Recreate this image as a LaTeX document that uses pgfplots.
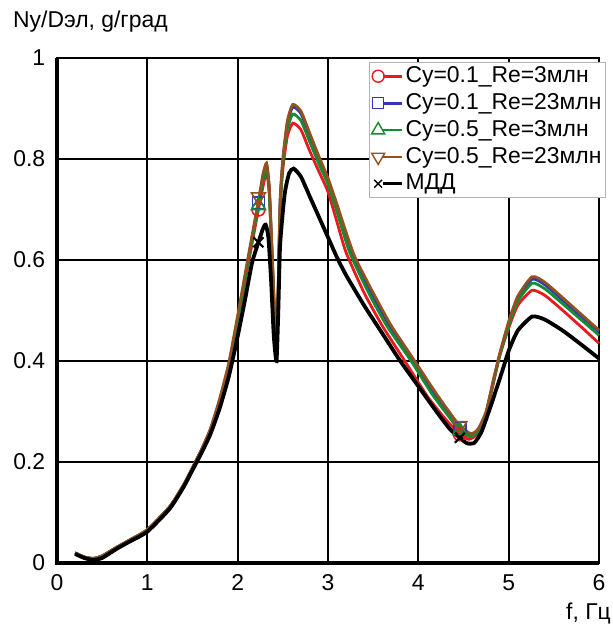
\documentclass[border=0pt]{standalone}
\usepackage{fontspec}
\setmainfont{Liberation Sans}
\usepackage{pgfplots}
\usepackage{pgfplotstable}
\pgfplotsset{compat=1.18}
\definecolor{cred}{RGB}{235,25,30}
\definecolor{cblue}{RGB}{50,55,180}
\definecolor{cgreen}{RGB}{20,140,50}
\definecolor{cbrown}{RGB}{145,82,32}

\pgfplotstableread{
f v
0.2 0.020
0.3 0.012
0.4 0.009
0.5 0.014
0.66 0.031
0.8 0.045
1.0 0.066
1.25 0.112
1.4 0.154
1.5 0.188
1.6 0.223
1.7 0.263
1.8 0.316
1.9 0.382
2.0 0.472
2.11 0.585
2.23 0.700
2.28 0.745
2.32 0.775
2.35 0.730
2.38 0.610
2.41 0.480
2.43 0.420
2.45 0.540
2.47 0.700
2.50 0.780
2.55 0.845
2.61 0.871
2.7 0.858
2.8 0.815
2.9 0.775
3.0 0.735
3.1 0.675
3.2 0.615
3.4 0.535
3.6 0.470
3.85 0.400
4.1 0.330
4.3 0.285
4.46 0.255
4.56 0.245
4.65 0.255
4.75 0.295
4.83 0.355
4.9 0.410
5.0 0.465
5.1 0.510
5.26 0.540
5.4 0.530
5.6 0.500
5.8 0.468
6.0 0.435
}\redtab

\pgfplotstableread{
f v
0.2 0.020
0.3 0.012
0.4 0.009
0.5 0.014
0.66 0.031
0.8 0.045
1.0 0.066
1.25 0.112
1.4 0.154
1.5 0.188
1.6 0.224
1.7 0.265
1.8 0.321
1.9 0.390
2.0 0.482
2.11 0.594
2.23 0.713
2.28 0.762
2.32 0.787
2.35 0.740
2.38 0.615
2.41 0.485
2.43 0.420
2.45 0.550
2.47 0.710
2.50 0.795
2.55 0.870
2.61 0.903
2.7 0.890
2.8 0.845
2.9 0.800
3.0 0.757
3.1 0.705
3.2 0.648
3.27 0.610
3.48 0.535
3.68 0.470
3.94 0.400
4.18 0.335
4.38 0.283
4.46 0.266
4.58 0.253
4.66 0.262
4.75 0.298
4.83 0.360
4.9 0.412
5.0 0.473
5.1 0.523
5.26 0.562
5.4 0.551
5.6 0.520
5.8 0.489
6.0 0.458
}\bluetab

\pgfplotstableread{
f v
0.2 0.020
0.3 0.012
0.4 0.009
0.5 0.014
0.66 0.031
0.8 0.045
1.0 0.066
1.25 0.112
1.4 0.154
1.5 0.188
1.6 0.224
1.7 0.264
1.8 0.319
1.9 0.386
2.0 0.478
2.11 0.590
2.23 0.708
2.28 0.757
2.32 0.783
2.35 0.735
2.38 0.612
2.41 0.482
2.43 0.420
2.45 0.545
2.47 0.705
2.50 0.788
2.55 0.858
2.61 0.889
2.7 0.876
2.8 0.833
2.9 0.790
3.0 0.750
3.1 0.695
3.24 0.615
3.45 0.535
3.65 0.470
3.92 0.400
4.15 0.335
4.35 0.287
4.46 0.262
4.57 0.250
4.66 0.260
4.75 0.297
4.83 0.358
4.9 0.410
5.0 0.470
5.1 0.518
5.26 0.554
5.4 0.543
5.6 0.513
5.8 0.482
6.0 0.451
}\greentab

\pgfplotstableread{
f v
0.2 0.020
0.3 0.012
0.4 0.009
0.5 0.014
0.66 0.031
0.8 0.045
1.0 0.066
1.25 0.112
1.4 0.154
1.5 0.189
1.6 0.225
1.7 0.267
1.8 0.325
1.9 0.395
2.0 0.490
2.11 0.600
2.23 0.718
2.28 0.770
2.32 0.792
2.35 0.745
2.38 0.620
2.41 0.490
2.43 0.420
2.45 0.555
2.47 0.720
2.50 0.800
2.55 0.875
2.61 0.908
2.7 0.895
2.8 0.850
2.9 0.805
3.0 0.762
3.1 0.710
3.2 0.655
3.3 0.605
3.5 0.535
3.7 0.470
3.96 0.400
4.2 0.335
4.4 0.285
4.46 0.272
4.58 0.256
4.66 0.265
4.75 0.300
4.83 0.362
4.9 0.414
5.0 0.478
5.1 0.528
5.26 0.567
5.4 0.556
5.6 0.525
5.8 0.493
6.0 0.461
}\browntab

\pgfplotstableread{
f v
0.2 0.018
0.3 0.010
0.4 0.006
0.5 0.010
0.66 0.028
0.8 0.042
1.0 0.062
1.25 0.108
1.4 0.150
1.5 0.184
1.6 0.218
1.7 0.256
1.8 0.306
1.9 0.368
1.99 0.440
2.08 0.520
2.16 0.595
2.23 0.635
2.28 0.662
2.31 0.670
2.34 0.645
2.37 0.560
2.40 0.450
2.43 0.400
2.45 0.500
2.47 0.630
2.52 0.730
2.57 0.772
2.62 0.781
2.7 0.765
2.8 0.725
2.9 0.685
3.0 0.645
3.1 0.605
3.2 0.570
3.4 0.510
3.6 0.455
3.8 0.400
4.0 0.350
4.2 0.300
4.35 0.265
4.46 0.248
4.54 0.237
4.62 0.238
4.7 0.260
4.8 0.310
4.92 0.375
5.0 0.420
5.1 0.460
5.26 0.488
5.4 0.482
5.6 0.460
5.8 0.433
6.0 0.405
}\blacktab

\begin{document}
\fontsize{23}{27}\selectfont
\begin{tikzpicture}
\useasboundingbox (-57bp,-71bp) rectangle (556bp,563bp);
\begin{axis}[
  at={(0,0)}, anchor=south west,
  scale only axis, width=542bp, height=505bp,
  xmin=0, xmax=6, ymin=0, ymax=1,
  xtick={0,1,2,3,4,5,6}, ytick={0,0.2,0.4,0.6,0.8,1},
  xticklabels={0,1,2,3,4,5,6},
  yticklabels={0,0.2,0.4,0.6,0.8,1},
  major tick length=0pt,
  grid=major, grid style={black, line width=1.8bp},
  axis line style={line width=1.8bp},
  tick label style={font=\fontsize{23}{27}\selectfont},
  xticklabel style={yshift=-4bp},
  yticklabel style={xshift=-4bp},
  clip=false,
  legend cell align=left,
  legend style={at={(rel axis cs:1,1)}, anchor=north east, xshift=7bp, yshift=-4bp,
    draw=gray!60, line width=1bp, inner sep=2bp, row sep=3.5bp,
    font=\fontsize{23}{27}\selectfont, fill=white},
  legend image code/.code={
    \draw[#1, mark=none, line width=2.8bp] (5bp,0bp) -- (24bp,0bp);
    \draw[#1] plot coordinates {(0bp,0bp)};
  },
]
\addplot[cred, line width=2.8bp, smooth, tension=0.35, forget plot] table[x=f,y=v] {\redtab};
\addplot[cblue, line width=2.8bp, smooth, tension=0.35, forget plot] table[x=f,y=v] {\bluetab};
\addplot[cgreen, line width=2.8bp, smooth, tension=0.35, forget plot] table[x=f,y=v] {\greentab};
\addplot[cbrown, line width=2.8bp, smooth, tension=0.35, forget plot] table[x=f,y=v] {\browntab};
\addplot[black, line width=3.8bp, smooth, tension=0.35, forget plot] table[x=f,y=v] {\blacktab};

\addplot[cred, only marks, mark=o, mark size=6.5bp, line width=1.6bp, forget plot] coordinates {(2.23,0.700) (4.46,0.255)};
\addplot[cblue, only marks, mark=square, mark size=6bp, line width=1.6bp, forget plot] coordinates {(2.23,0.713) (4.46,0.266)};
\addplot[cgreen, only marks, mark=triangle, mark size=8bp, line width=1.6bp, forget plot] coordinates {(2.23,0.708) (4.46,0.262)};
\addplot[cbrown, only marks, mark=triangle, mark options={rotate=180}, mark size=8bp, line width=1.6bp, forget plot] coordinates {(2.23,0.725) (4.46,0.272)};
\addplot[black, only marks, mark=x, mark size=7bp, line width=2.2bp, forget plot] coordinates {(2.23,0.635) (4.46,0.248)};

\addlegendimage{cred, mark=o, mark size=6bp, line width=1.4bp}
\addlegendentry{Cy=0.1\_Re=3млн}
\addlegendimage{cblue, mark=square, mark size=5.5bp, line width=1.4bp}
\addlegendentry{Cy=0.1\_Re=23млн}
\addlegendimage{cgreen, mark=triangle, mark size=7.5bp, line width=1.4bp}
\addlegendentry{Cy=0.5\_Re=3млн}
\addlegendimage{cbrown, mark=triangle, mark options={rotate=180}, mark size=7.5bp, line width=1.4bp}
\addlegendentry{Cy=0.5\_Re=23млн}
\addlegendimage{black, mark=x, mark size=5.5bp, line width=1.4bp}
\addlegendentry{МДД}

\draw[line width=4.5bp] (rel axis cs:0,1) -- (rel axis cs:0,0) -- (rel axis cs:1,0);
\node[anchor=base west, inner sep=0pt] at (rel axis cs:0,1) [xshift=-44bp, yshift=30bp] {Ny/Dэл, g/град};
\node[anchor=base east, inner sep=0pt] at (rel axis cs:1,0) [xshift=12bp, yshift=-56bp] {f, Гц};
\end{axis}
\end{tikzpicture}
\end{document}
